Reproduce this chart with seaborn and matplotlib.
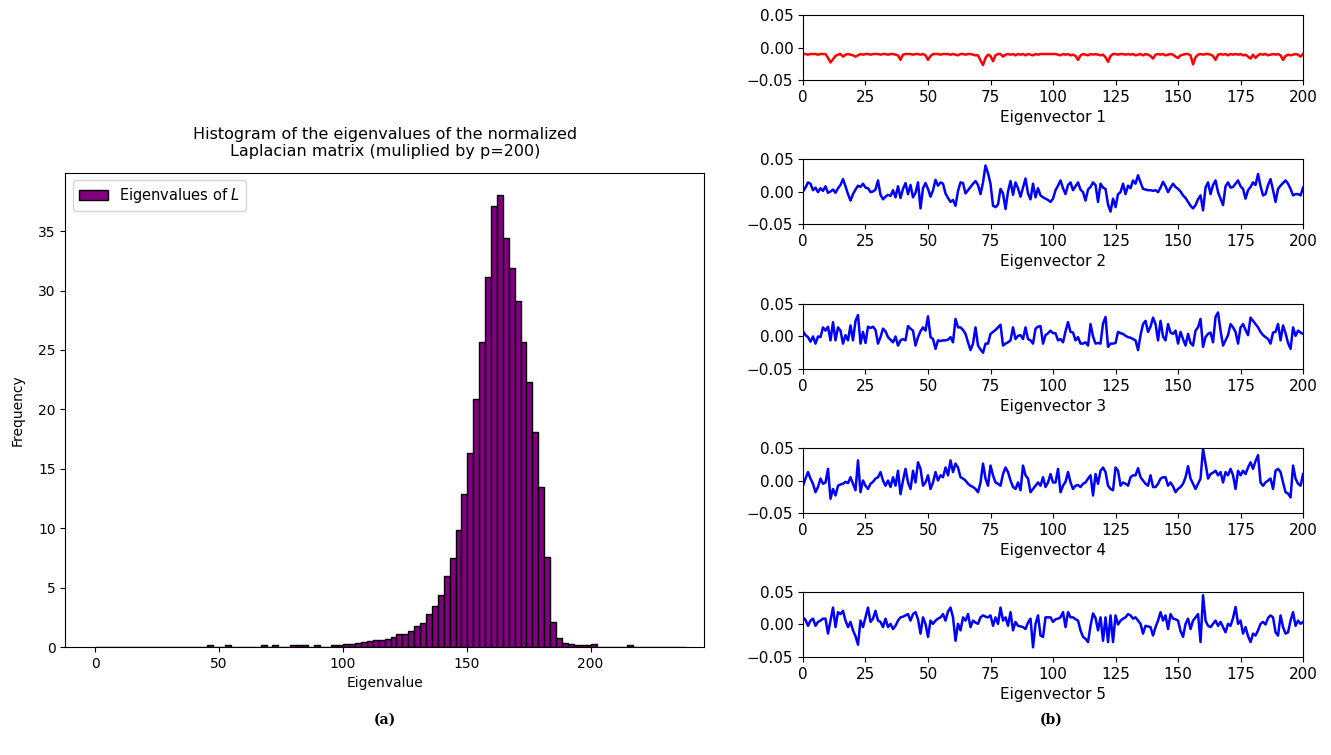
import numpy as np
import pandas as pd
import matplotlib
matplotlib.use("Agg")
import matplotlib.pyplot as plt
import seaborn as sns

# histogram of eigenvalues: 100 bins, heights
BIN_LO = 0.0
BIN_WIDTH = 2.385
N_BINS = 100
hist_heights = [0.0] * N_BINS
tail = {
    19: 0.14, 22: 0.14, 28: 0.14, 30: 0.14, 33: 0.14, 34: 0.2, 35: 0.2, 37: 0.2,
    40: 0.17, 41: 0.2, 42: 0.22, 43: 0.28, 44: 0.33, 45: 0.42, 46: 0.5, 47: 0.6,
    48: 0.62, 49: 0.65, 50: 0.88, 51: 1.08, 52: 1.08, 53: 1.37, 54: 1.76, 55: 2.02,
    56: 2.8, 57: 3.43, 58: 4.41, 59: 5.94, 60: 7.53, 61: 9.85, 62: 12.9, 63: 16.3,
    64: 20.9, 65: 25.7, 66: 31.1, 67: 37.1, 68: 38.0, 69: 34.4, 70: 31.9, 71: 29.1,
    72: 25.7, 73: 22.3, 74: 18.1, 75: 13.5, 76: 7.6, 77: 2.1, 78: 0.78, 79: 0.36,
    80: 0.22, 81: 0.17, 82: 0.14, 83: 0.14, 84: 0.22, 90: 0.15,
}
for k, v in tail.items():
    hist_heights[k] = v

vec1 = [
    -0.010, -0.010, -0.011, -0.010, -0.010, -0.010, -0.011, -0.010, -0.010, -0.010,
    -0.016, -0.023, -0.018, -0.013, -0.011, -0.010, -0.014, -0.011, -0.010, -0.011,
    -0.012, -0.014, -0.012, -0.010, -0.011, -0.010, -0.010, -0.011, -0.010, -0.010,
    -0.010, -0.011, -0.010, -0.010, -0.011, -0.010, -0.010, -0.011, -0.012, -0.019,
    -0.011, -0.010, -0.010, -0.010, -0.011, -0.010, -0.010, -0.011, -0.010, -0.012,
    -0.019, -0.013, -0.010, -0.010, -0.010, -0.011, -0.010, -0.010, -0.010, -0.011,
    -0.010, -0.011, -0.012, -0.010, -0.010, -0.011, -0.010, -0.010, -0.011, -0.012,
    -0.012, -0.020, -0.027, -0.016, -0.011, -0.013, -0.021, -0.012, -0.010, -0.010,
    -0.014, -0.011, -0.010, -0.011, -0.010, -0.012, -0.010, -0.011, -0.010, -0.012,
    -0.010, -0.011, -0.012, -0.010, -0.011, -0.010, -0.010, -0.010, -0.010, -0.010,
    -0.010, -0.010, -0.011, -0.012, -0.010, -0.011, -0.010, -0.012, -0.011, -0.013,
    -0.019, -0.012, -0.010, -0.011, -0.012, -0.010, -0.011, -0.010, -0.011, -0.012,
    -0.011, -0.015, -0.022, -0.013, -0.010, -0.010, -0.011, -0.010, -0.010, -0.011,
    -0.010, -0.011, -0.010, -0.012, -0.011, -0.010, -0.012, -0.010, -0.011, -0.013,
    -0.017, -0.011, -0.010, -0.011, -0.010, -0.012, -0.011, -0.010, -0.011, -0.014,
    -0.016, -0.012, -0.011, -0.010, -0.010, -0.012, -0.026, -0.015, -0.011, -0.010,
    -0.011, -0.010, -0.010, -0.011, -0.013, -0.019, -0.011, -0.010, -0.011, -0.010,
    -0.012, -0.010, -0.011, -0.010, -0.011, -0.010, -0.012, -0.011, -0.014, -0.017,
    -0.011, -0.016, -0.012, -0.010, -0.011, -0.010, -0.012, -0.011, -0.010, -0.011,
    -0.010, -0.012, -0.019, -0.013, -0.011, -0.012, -0.011, -0.010, -0.011, -0.014,
    -0.010,
]

vec2 = [
    0.000, 0.006, 0.014, 0.012, 0.002, 0.006, -0.001, 0.005, 0.001, 0.008,
    -0.002, 0.000, 0.003, -0.002, 0.005, 0.010, 0.019, 0.008, -0.004, -0.014,
    -0.004, 0.003, 0.009, 0.007, 0.012, 0.006, 0.005, -0.001, 0.000, 0.003,
    0.017, -0.005, -0.012, -0.008, -0.005, -0.007, 0.002, -0.009, 0.008, -0.010,
    0.004, 0.013, -0.004, 0.010, -0.009, -0.002, 0.014, -0.026, 0.005, 0.013,
    0.004, -0.008, 0.002, 0.018, 0.009, 0.014, 0.012, -0.003, -0.010, -0.016,
    -0.013, -0.022, 0.001, 0.014, 0.013, -0.003, 0.002, 0.007, 0.012, 0.016,
    0.010, -0.004, 0.014, 0.040, 0.028, 0.012, -0.022, -0.024, -0.020, 0.004,
    -0.003, -0.027, 0.000, 0.016, -0.005, 0.014, 0.005, -0.008, 0.006, 0.020,
    -0.003, -0.012, 0.012, -0.009, 0.005, -0.006, -0.009, -0.011, -0.013, -0.016,
    -0.011, 0.002, 0.009, 0.017, 0.005, -0.004, 0.010, 0.014, 0.002, 0.008,
    0.014, 0.003, -0.001, -0.014, 0.003, 0.007, 0.014, 0.010, -0.016, 0.012,
    0.006, 0.004, -0.020, -0.031, -0.011, -0.024, -0.004, -0.001, 0.012, -0.004,
    0.009, 0.005, 0.017, 0.012, 0.025, 0.014, 0.004, 0.003, 0.002, 0.002,
    0.001, 0.002, -0.001, 0.006, 0.015, 0.008, -0.001, 0.006, 0.012, 0.007,
    0.004, 0.000, -0.006, -0.010, -0.016, -0.022, -0.026, -0.021, -0.012, -0.006,
    -0.029, 0.006, 0.014, -0.004, 0.010, 0.017, -0.001, -0.011, -0.021, 0.008,
    0.014, 0.006, 0.007, 0.012, 0.017, 0.008, 0.004, -0.011, 0.002, 0.007,
    0.014, 0.010, 0.027, 0.008, -0.006, -0.004, 0.010, 0.019, 0.002, -0.016,
    0.004, 0.009, 0.013, 0.017, 0.012, 0.004, -0.006, -0.004, -0.004, -0.006,
    0.006,
]

vec3 = [
    0.008, 0.002, -0.001, -0.008, 0.000, -0.011, 0.000, -0.001, 0.014, 0.009,
    0.015, -0.006, 0.022, -0.006, 0.014, 0.009, -0.011, 0.002, -0.006, 0.017,
    -0.006, 0.024, 0.033, -0.011, 0.007, -0.010, 0.015, 0.013, 0.015, 0.010,
    -0.011, -0.001, 0.012, 0.008, -0.001, -0.005, -0.009, 0.000, -0.014, -0.006,
    -0.004, -0.006, 0.016, 0.012, 0.009, -0.014, -0.001, 0.008, 0.014, 0.009,
    0.031, -0.001, -0.004, -0.019, -0.006, -0.007, -0.006, -0.006, -0.005, -0.001,
    -0.009, 0.027, 0.014, 0.014, 0.010, 0.004, -0.009, -0.021, -0.011, 0.014,
    -0.014, -0.020, -0.025, -0.011, -0.011, 0.004, 0.007, 0.010, 0.014, 0.018,
    -0.014, -0.011, -0.009, -0.006, 0.014, -0.004, 0.001, 0.002, -0.004, 0.014,
    -0.004, -0.006, -0.011, 0.012, 0.015, 0.016, -0.011, 0.002, 0.005, 0.009,
    0.005, 0.005, -0.006, -0.004, -0.009, 0.008, 0.022, 0.007, 0.006, -0.006,
    -0.001, -0.011, -0.011, -0.009, -0.014, 0.019, 0.000, -0.011, -0.010, -0.011,
    0.020, 0.030, -0.016, -0.011, -0.011, -0.010, 0.007, 0.005, 0.004, 0.001,
    -0.001, -0.002, -0.004, -0.006, -0.021, 0.002, 0.019, 0.024, 0.007, 0.015,
    0.029, 0.019, -0.006, 0.024, 0.000, -0.006, 0.019, 0.006, 0.004, 0.009,
    -0.011, 0.007, -0.004, -0.014, 0.004, -0.010, -0.014, 0.009, 0.014, 0.027,
    -0.016, -0.001, 0.004, 0.006, -0.009, 0.030, 0.037, 0.009, -0.014, -0.006,
    0.002, 0.019, 0.014, 0.007, -0.011, 0.014, 0.019, 0.010, 0.002, 0.029,
    0.024, 0.019, 0.014, 0.007, 0.002, -0.001, -0.004, -0.011, 0.006, 0.007,
    0.019, -0.006, 0.017, 0.005, -0.010, -0.019, 0.014, 0.001, 0.009, 0.006,
    0.004,
]

vec4 = [
    -0.008, 0.003, 0.013, 0.003, -0.005, -0.018, -0.010, 0.003, -0.005, -0.003,
    0.018, -0.028, -0.013, -0.023, -0.008, -0.006, -0.005, -0.002, -0.004, 0.005,
    -0.005, -0.015, 0.031, -0.018, 0.000, -0.008, -0.013, -0.005, -0.002, 0.003,
    0.005, 0.013, 0.000, -0.008, 0.000, -0.010, 0.005, -0.008, 0.015, -0.021,
    0.000, 0.018, -0.003, -0.013, 0.015, -0.003, 0.028, 0.018, -0.008, -0.003,
    0.008, -0.013, -0.003, 0.013, 0.000, 0.008, 0.005, 0.020, 0.008, 0.031,
    0.013, 0.026, 0.020, 0.005, 0.003, 0.000, -0.005, -0.008, -0.010, -0.013,
    -0.018, -0.003, 0.026, 0.003, -0.008, 0.023, 0.008, -0.003, -0.005, -0.008,
    0.010, 0.020, 0.013, 0.000, -0.010, -0.013, -0.003, -0.015, 0.023, 0.008,
    0.003, -0.018, -0.013, -0.008, -0.003, -0.008, 0.005, -0.010, -0.003, 0.010,
    -0.003, -0.003, 0.018, -0.018, -0.008, -0.002, 0.013, -0.003, -0.013, -0.008,
    -0.007, -0.010, -0.005, -0.003, 0.003, 0.008, -0.023, 0.010, -0.005, 0.015,
    0.020, 0.013, -0.008, -0.013, -0.015, 0.020, 0.015, -0.008, -0.003, -0.005,
    -0.008, 0.005, 0.008, 0.008, 0.019, 0.005, 0.000, -0.005, -0.008, 0.008,
    -0.010, -0.010, -0.005, 0.003, 0.005, 0.005, -0.008, -0.003, -0.009, -0.018,
    -0.013, -0.010, -0.005, 0.005, 0.022, 0.003, -0.005, -0.013, -0.005, 0.003,
    0.049, 0.026, 0.003, 0.010, 0.012, 0.015, 0.008, 0.013, -0.003, 0.013,
    0.008, 0.018, 0.008, -0.013, 0.015, 0.008, 0.015, 0.010, 0.020, 0.028,
    0.018, 0.030, 0.039, -0.003, -0.008, -0.003, 0.000, 0.003, -0.013, 0.015,
    0.018, 0.013, -0.003, -0.018, -0.020, -0.026, 0.023, 0.003, -0.005, -0.008,
    0.010,
]

vec5 = [
    0.011, 0.007, -0.002, 0.006, 0.009, -0.002, 0.004, 0.006, 0.009, 0.009,
    -0.014, 0.006, 0.026, -0.004, 0.019, 0.016, 0.021, 0.006, -0.004, 0.004,
    -0.009, -0.018, -0.031, 0.006, -0.004, 0.011, 0.026, 0.004, 0.009, 0.021,
    0.006, 0.004, -0.004, 0.009, -0.004, 0.001, -0.007, -0.002, 0.006, 0.011,
    0.012, 0.014, 0.016, 0.006, 0.016, 0.019, 0.008, -0.014, 0.011, 0.001,
    -0.019, 0.006, 0.001, 0.006, 0.009, 0.011, 0.016, 0.006, 0.020, 0.026,
    0.011, -0.025, 0.001, -0.009, 0.011, 0.006, 0.016, -0.004, 0.006, 0.003,
    0.001, 0.011, 0.014, 0.012, 0.011, 0.014, -0.002, 0.011, 0.001, 0.026,
    0.006, 0.011, -0.002, 0.019, -0.009, 0.004, -0.002, -0.003, -0.004, -0.007,
    0.003, 0.009, -0.035, 0.001, 0.014, -0.017, -0.019, 0.011, 0.011, 0.011,
    0.004, 0.008, 0.009, 0.011, 0.019, -0.004, 0.019, 0.011, 0.011, 0.008,
    0.006, -0.009, -0.019, -0.022, -0.027, -0.002, 0.017, 0.010, -0.009, 0.011,
    -0.025, 0.011, -0.027, 0.014, -0.027, 0.014, 0.000, 0.006, 0.009, 0.011,
    0.016, 0.014, 0.009, 0.011, 0.006, 0.001, -0.014, -0.002, -0.003, -0.004,
    -0.017, -0.004, 0.006, 0.019, 0.006, 0.014, -0.007, 0.016, 0.009, 0.008,
    0.006, -0.010, -0.019, 0.001, 0.009, -0.007, 0.006, 0.011, 0.016, -0.027,
    0.045, 0.006, -0.002, -0.004, 0.001, 0.006, -0.002, 0.004, -0.004, -0.012,
    0.001, -0.002, 0.010, 0.027, 0.001, 0.006, -0.014, -0.004, -0.018, -0.027,
    -0.014, -0.017, -0.009, 0.001, 0.004, 0.000, 0.010, 0.014, 0.011, -0.012,
    -0.017, 0.014, -0.004, -0.014, -0.012, 0.006, 0.019, -0.002, 0.006, 0.001,
    0.004,
]

eigvecs = [vec1, vec2, vec3, vec4, vec5]
vec_colors = ["red", "blue", "blue", "blue", "blue"]

bin_edges = [BIN_LO + BIN_WIDTH * k for k in range(N_BINS + 1)]
hist_df = pd.DataFrame({
    "eigenvalue": [(bin_edges[k] + bin_edges[k + 1]) / 2 for k in range(N_BINS)],
    "height": hist_heights,
})

fig = plt.figure(figsize=(13.31, 7.55), dpi=100)

# (a) histogram
ax = fig.add_axes([0.0492, 0.143, 0.4801, 0.628])
sns.histplot(data=hist_df, x="eigenvalue", weights="height", bins=bin_edges,
             color="purple", edgecolor="black", linewidth=1, alpha=1, ax=ax,
             label="Eigenvalues of $L$")
ax.set_xlim(-12, 246)
ax.set_xticks([0, 50, 100, 150, 200])
ax.set_yticks([0, 5, 10, 15, 20, 25, 30, 35])
ax.tick_params(labelsize=10)
ax.set_xlabel("Eigenvalue", fontsize=10)
ax.set_ylabel("Frequency", fontsize=10, labelpad=10)
ax.set_title("Histogram of the eigenvalues of the normalized\nLaplacian matrix (muliplied by p=200)",
             fontsize=11.5, pad=12)
ax.legend(loc="upper left", fontsize=10.5)

# (b) first five eigenvectors
bottoms = [0.894, 0.7033, 0.5113, 0.3205, 0.1298]
idx = np.arange(len(vec1))
for i, (vec, col, b) in enumerate(zip(eigvecs, vec_colors, bottoms)):
    axv = fig.add_axes([0.6033, b, 0.3757, 0.0861])
    sns.lineplot(x=idx, y=vec, color=col, linewidth=1.8, ax=axv)
    axv.set_xlim(0, 200)
    axv.set_ylim(-0.05, 0.05)
    axv.set_yticks([-0.05, 0.0, 0.05])
    axv.set_yticklabels(["\u22120.05", "0.00", "0.05"])
    axv.set_xticks([0, 25, 50, 75, 100, 125, 150, 175, 200])
    axv.tick_params(labelsize=11)
    axv.set_xlabel(f"Eigenvector {i + 1}", fontsize=11)

fig.text(0.289, 0.042, "(a)", fontsize=10, fontweight="bold", family="DejaVu Serif", ha="center")
fig.text(0.790, 0.042, "(b)", fontsize=10, fontweight="bold", family="DejaVu Serif", ha="center")

fig.savefig("out.png", dpi=100)
